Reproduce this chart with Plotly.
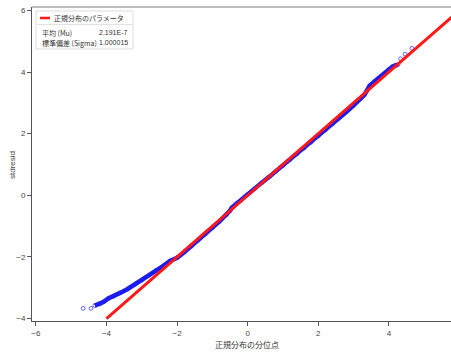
import plotly.graph_objects as go

# Theoretical quantiles (x) and standardized residuals (y)
theo_q = [-4.66, -4.44, -4.33, -4.18, -4.08, -3.95, -3.80, -3.60, -3.40, -3.20,
          -3.00, -2.80, -2.60, -2.40, -2.20, -2.00, -1.80, -1.60, -1.40, -1.20,
          -1.00, -0.80, -0.60, -0.50, -0.45, -0.30, -0.10, 0.00, 0.20, 0.40,
          0.60, 0.80, 1.00, 1.20, 1.40, 1.60, 1.80, 2.00, 2.20, 2.40,
          2.60, 2.80, 3.00, 3.20, 3.30, 3.38, 3.45, 3.60, 3.80, 4.00,
          4.10, 4.20, 4.26, 4.33, 4.46, 4.65]
resid_q = [-3.67, -3.67, -3.58, -3.53, -3.46, -3.35, -3.28, -3.16, -3.04, -2.90,
           -2.76, -2.60, -2.44, -2.30, -2.13, -2.03, -1.85, -1.66, -1.46, -1.26,
           -1.05, -0.85, -0.64, -0.50, -0.40, -0.25, -0.06, 0.03, 0.22, 0.41,
           0.59, 0.78, 0.96, 1.15, 1.34, 1.53, 1.72, 1.92, 2.11, 2.31,
           2.51, 2.71, 2.92, 3.13, 3.25, 3.40, 3.55, 3.70, 3.89, 4.09,
           4.17, 4.22, 4.24, 4.43, 4.58, 4.77]
# indices of the dense band (drawn as a continuous band)
band_start, band_end = 2, 53

mu = 2.191e-7
sigma = 1.000015
line_x = [-4.0, 6.5]
line_y = [mu + sigma * v for v in line_x]

param_names = ["平均 (Mu)", "標準偏差 (Sigma)"]
param_values = ["2.191E-7", "1.000015"]
legend_title = "正規分布のパラメータ"

x_ticks = [-6, -4, -2, 0, 2, 4]
y_ticks = [-4, -2, 0, 2, 4, 6]

W, H = 451, 352
L, R, T, B = 32, 451, 7, 321  # plot area in pixels


def px(x):
    return (x - L) / (R - L)


def py(y):
    return (B - y) / (B - T)


JP = "Noto Sans CJK JP, Noto Sans, sans-serif"

fig = go.Figure()
fig.add_trace(go.Scatter(
    x=theo_q[band_start:band_end], y=resid_q[band_start:band_end], mode="lines",
    line=dict(color="rgb(25,25,235)", width=4.5), hoverinfo="skip", showlegend=False))
fig.add_trace(go.Scatter(
    x=theo_q, y=resid_q, mode="markers",
    marker=dict(symbol="circle-open", size=3.8, color="rgba(40,40,255,0.7)", line=dict(width=1)),
    showlegend=False))
fig.add_trace(go.Scatter(
    x=line_x, y=line_y, mode="lines",
    line=dict(color="rgb(255,25,25)", width=3), showlegend=False))

axis_common = dict(
    showgrid=False, zeroline=False, showline=True, linecolor="#555", linewidth=1,
    ticks="outside", ticklen=4, tickcolor="#555", tickwidth=1,
    tickfont=dict(family="Liberation Sans, Arial", size=8, color="#444"),
)
fig.update_xaxes(range=[-6.11, 5.76], tickvals=x_ticks, mirror=False, **axis_common)
fig.update_yaxes(range=[-4.08, 6.11], tickvals=y_ticks, mirror=False, **axis_common)

shapes = [
    # top frame line
    dict(type="line", xref="paper", yref="paper", x0=0, x1=1, y0=1, y1=1,
         line=dict(color="#777", width=1)),
    # legend box
    dict(type="rect", xref="paper", yref="paper", x0=px(36), x1=px(133), y0=py(49), y1=py(11),
         line=dict(color="#ddd", width=1), fillcolor="white", layer="above"),
    dict(type="line", xref="paper", yref="paper", x0=px(36), x1=px(133), y0=py(24.5), y1=py(24.5),
         line=dict(color="#e2e2e2", width=1), layer="above"),
    dict(type="line", xref="paper", yref="paper", x0=px(40), x1=px(50), y0=py(18), y1=py(18),
         line=dict(color="rgb(255,25,25)", width=2.5), layer="above"),
]

annotations = [
    dict(text=legend_title, x=px(51.5), y=py(18.3), xanchor="left", yanchor="middle",
         font=dict(family=JP, size=7, color="#333")),
    dict(text=param_names[0], x=px(40), y=py(32.5), xanchor="left", yanchor="middle",
         font=dict(family=JP, size=7, color="#333")),
    dict(text=param_values[0], x=px(129.5), y=py(32.5), xanchor="right", yanchor="middle",
         font=dict(family="Liberation Sans, Arial", size=7, color="#333")),
    dict(text=param_names[1], x=px(40), y=py(43), xanchor="left", yanchor="middle",
         font=dict(family=JP, size=7, color="#333")),
    dict(text=param_values[1], x=px(129.5), y=py(43), xanchor="right", yanchor="middle",
         font=dict(family="Liberation Sans, Arial", size=7, color="#333")),
    dict(text="stdresid", x=px(12), y=py(165), textangle=-90, xanchor="center", yanchor="middle",
         font=dict(family="Liberation Sans, Arial", size=8, color="#444")),
    dict(text="正規分布の分位点", x=px(247), y=py(344), xanchor="center", yanchor="middle",
         font=dict(family=JP, size=8, color="#333")),
]
for a in annotations:
    a.update(xref="paper", yref="paper", showarrow=False)

fig.update_layout(
    width=W, height=H, margin=dict(l=L, r=W - R, t=T, b=H - B, pad=0),
    paper_bgcolor="white", plot_bgcolor="white",
    shapes=shapes, annotations=annotations, showlegend=False,
)

fig.write_html("out.html", config={"displayModeBar": False},
               post_script="document.body.style.margin='0';document.body.style.overflow='hidden';")
